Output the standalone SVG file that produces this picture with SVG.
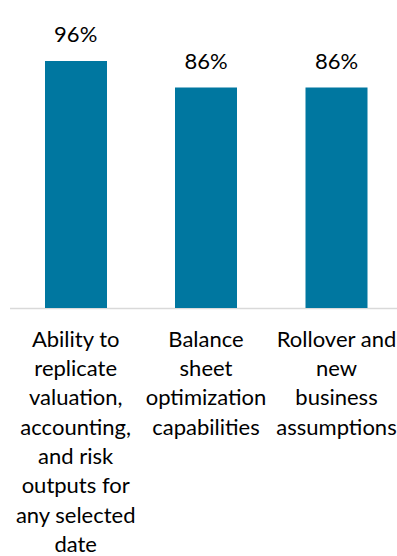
<svg xmlns="http://www.w3.org/2000/svg" width="397" height="556" viewBox="0 0 397 556">
<style>
.bar{fill:#0077a0}
.t{font-family:Lato,"Open Sans","Liberation Sans",sans-serif;font-size:22px;fill:#000;text-anchor:middle}
</style>
<rect width="397" height="556" fill="#fff"/>
<g id="axis"><line x1="10" y1="308.5" x2="397" y2="308.5" stroke="#d9d9d9" stroke-width="1.5"/></g>
<g id="bar1">
<rect class="bar" x="45" y="61" width="62" height="247"/>
<text class="t" x="75.7" y="42">96%</text>
<text class="t" x="75.7" y="346.7">Ability to</text>
<text class="t" x="75.7" y="376">replicate</text>
<text class="t" x="75.7" y="405.3">valuation,</text>
<text class="t" x="75.7" y="434.6">accounting,</text>
<text class="t" x="75.7" y="463.9">and risk</text>
<text class="t" x="75.7" y="493.2">outputs for</text>
<text class="t" x="75.7" y="522.5">any selected</text>
<text class="t" x="75.7" y="551.8">date</text>
</g>
<g id="bar2">
<rect class="bar" x="175" y="87.5" width="62" height="220.5"/>
<text class="t" x="206" y="69">86%</text>
<text class="t" x="206" y="346.7">Balance</text>
<text class="t" x="206" y="376">sheet</text>
<text class="t" x="206" y="405.3">optimization</text>
<text class="t" x="206" y="434.6">capabilities</text>
</g>
<g id="bar3">
<rect class="bar" x="305.5" y="87.5" width="62" height="220.5"/>
<text class="t" x="336.5" y="69">86%</text>
<text class="t" x="336.5" y="346.7">Rollover and</text>
<text class="t" x="336.5" y="376">new</text>
<text class="t" x="336.5" y="405.3">business</text>
<text class="t" x="336.5" y="434.6">assumptions</text>
</g>
</svg>
